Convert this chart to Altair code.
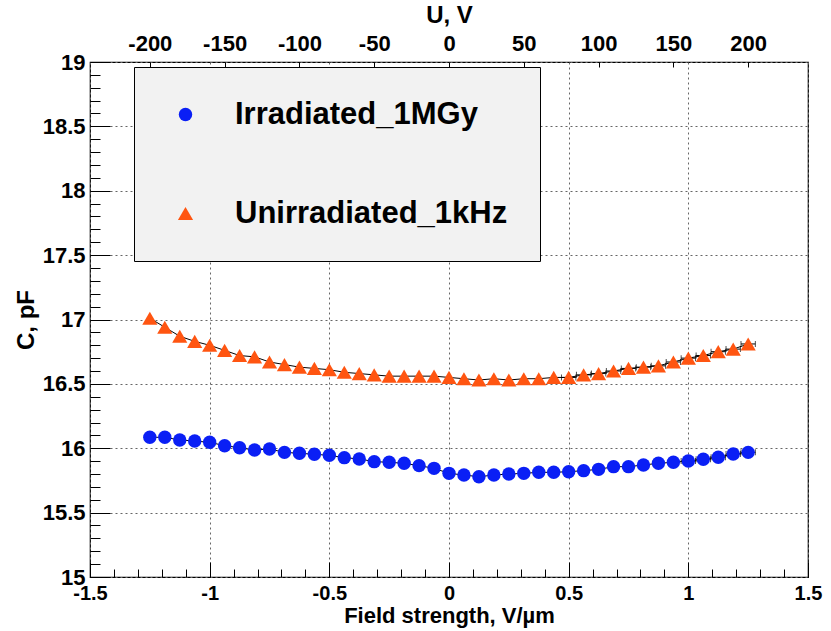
import altair as alt
import pandas as pd

FONT = "Liberation Sans"
BLUE = "#0a1ff5"
ORANGE = "#ff5511"

# ---- data -------------------------------------------------------------
voltage = [-200, -190, -180, -170, -160, -150, -140, -130, -120, -110,
           -100, -90, -80, -70, -60, -50, -40, -30, -20, -10, 0,
           10, 20, 30, 40, 50, 60, 70, 80, 90, 100,
           110, 120, 130, 140, 150, 160, 170, 180, 190, 200]
field = [-1.25, -1.1875, -1.125, -1.0625, -1.0, -0.9375, -0.875, -0.8125,
         -0.75, -0.6875, -0.625, -0.5625, -0.5, -0.4375, -0.375, -0.3125,
         -0.25, -0.1875, -0.125, -0.0625, 0.0,
         0.0625, 0.125, 0.1875, 0.25, 0.3125, 0.375, 0.4375, 0.5, 0.5625,
         0.625, 0.6875, 0.75, 0.8125, 0.875, 0.9375, 1.0, 1.0625, 1.125,
         1.1875, 1.25]
irradiated = [16.085, 16.085, 16.064, 16.056, 16.046, 16.020, 16.004, 15.986,
              15.994, 15.968, 15.961, 15.953, 15.945, 15.927, 15.917, 15.896,
              15.891, 15.883, 15.865, 15.844, 15.805,
              15.792, 15.779, 15.792, 15.800, 15.805, 15.813, 15.813, 15.818,
              15.826, 15.836, 15.857, 15.857, 15.870, 15.883, 15.891, 15.901,
              15.914, 15.930, 15.955, 15.968]
unirradiated = [17.01, 16.94, 16.87, 16.83, 16.80, 16.76, 16.72, 16.71,
                16.67, 16.65, 16.63, 16.62, 16.61, 16.59, 16.58, 16.57,
                16.56, 16.56, 16.56, 16.56, 16.55,
                16.54, 16.53, 16.54, 16.53, 16.54, 16.54, 16.55, 16.55,
                16.57, 16.58, 16.60, 16.62, 16.63, 16.64, 16.67, 16.70,
                16.72, 16.75, 16.77, 16.81]
irradiated_xerr = [0.0] * 36 + [0.03, 0.03, 0.03, 0.03, 0.03]
unirradiated_xerr = [0.0] * 28 + [0.03] * 13
series_names = ["Irradiated_1MGy", "Unirradiated_1kHz"]

x_major = [-1.5, -1.0, -0.5, 0.0, 0.5, 1.0, 1.5]
x_minor = [round(-1.5 + 0.1 * i, 2) for i in range(31)]
y_major = [15, 15.5, 16, 16.5, 17, 17.5, 18, 18.5, 19]
y_minor = [round(15 + 0.1 * i, 2) for i in range(41)]
u_major = [-200, -150, -100, -50, 0, 50, 100, 150, 200]

rows = []
for name, vals, errs in [(series_names[0], irradiated, irradiated_xerr),
                         (series_names[1], unirradiated, unirradiated_xerr)]:
    for e, u, c, xe in zip(field, voltage, vals, errs):
        rows.append({"series": name, "E": e, "U": u, "C": c,
                     "lo": e - xe, "hi": e + xe, "xerr": xe})
df = pd.DataFrame(rows)
err_df = df[df["xerr"] > 0]

W, H = 718, 515
xdom = alt.Scale(domain=[-1.5, 1.5], nice=False, zero=False)
ydom = alt.Scale(domain=[15, 19], nice=False, zero=False)

def Xn(field_name="E"):
    return alt.X(f"{field_name}:Q", scale=xdom, axis=None)

def Yn(field_name="C"):
    return alt.Y(f"{field_name}:Q", scale=ydom, axis=None)

base = alt.Chart(df)

lines = base.mark_line(color="black", strokeWidth=1).encode(
    x=Xn(), y=Yn(), detail="series:N", order="E:Q")

err = alt.Chart(err_df).mark_rule(color="black", strokeWidth=1).encode(
    x=Xn("lo"), x2="hi:Q", y=Yn())
cap_lo = alt.Chart(err_df).mark_tick(color="black", orient="vertical",
                                     size=6, thickness=1).encode(x=Xn("lo"), y=Yn())
cap_hi = alt.Chart(err_df).mark_tick(color="black", orient="vertical",
                                     size=6, thickness=1).encode(x=Xn("hi"), y=Yn())

legend = alt.Legend(
    orient="none", legendX=44, legendY=5, title=None,
    fillColor="#f2f2f2", strokeColor="black", padding=32,
    rowPadding=67, symbolOffset=4, labelOffset=34,
    labelFontSize=31, labelFont=FONT, labelFontWeight="bold",
    labelColor="black", symbolSize=200, symbolStrokeWidth=0,
    labelLimit=600)

points = base.mark_point(filled=True, opacity=1, strokeWidth=0).encode(
    x=alt.X("E:Q", scale=xdom, axis=alt.Axis(
        orient="bottom", values=x_major, labelExpr="'' + datum.value",
        ticks=False, domain=False, grid=True, gridColor="#666666",
        gridDash=[2, 3], gridWidth=1, labelFont=FONT, labelFontSize=20,
        labelFontWeight="bold", labelColor="black", labelPadding=6,
        labelFlush=False, labelOverlap=False,
        title="Field strength, V/\u00b5m", titleFont=FONT, titleFontSize=22,
        titleFontWeight="bold", titleColor="black", titlePadding=2)),
    y=alt.Y("C:Q", scale=ydom, axis=alt.Axis(
        orient="left", values=y_major, labelExpr="'' + datum.value",
        ticks=False, domain=False, grid=True, gridColor="#666666",
        gridDash=[2, 3], gridWidth=1, labelFont=FONT, labelFontSize=22,
        labelFontWeight="bold", labelColor="black", labelPadding=5,
        labelFlush=False, labelOverlap=False,
        title="C, pF", titleFont=FONT, titleFontSize=24,
        titleFontWeight="bold", titleColor="black", titlePadding=4)),
    color=alt.Color("series:N", scale=alt.Scale(domain=series_names,
                                                range=[BLUE, ORANGE]),
                    legend=legend),
    shape=alt.Shape("series:N", scale=alt.Scale(domain=series_names,
                                                range=["circle", "triangle-up"]),
                    legend=legend),
    size=alt.Size("series:N", scale=alt.Scale(domain=series_names,
                                              range=[180, 230]),
                  legend=None),
)

def tick_axis(orient, values, size, offset):
    return alt.Axis(orient=orient, values=values, tickSize=size, offset=offset,
                    labels=False, domain=False, grid=False, title=None,
                    ticks=True, tickColor="black", tickWidth=1)

major_ticks = base.mark_point(opacity=0).encode(
    x=alt.X("E:Q", scale=xdom, axis=tick_axis("top", x_major, 15, -H)),
    y=alt.Y("C:Q", scale=ydom, axis=tick_axis("right", y_major, 20, -W)))
minor_ticks = base.mark_point(opacity=0).encode(
    x=alt.X("E:Q", scale=xdom, axis=tick_axis("top", x_minor, 8, -H)),
    y=alt.Y("C:Q", scale=ydom, axis=tick_axis("right", y_minor, 10, -W)))

uscale = alt.Scale(domain=[-240, 240], nice=False, zero=False)
u_labels = base.mark_point(opacity=0).encode(
    x=alt.X("U:Q", scale=uscale, axis=alt.Axis(
        orient="top", values=u_major, labelExpr="'' + datum.value",
        ticks=False, domain=False, grid=False, labelFont=FONT,
        labelFontSize=22, labelFontWeight="bold", labelColor="black",
        labelPadding=7, labelFlush=False, labelOverlap=False,
        title="U, V", titleFont=FONT, titleFontSize=24,
        titleFontWeight="bold", titleColor="black", titlePadding=5)),
    y=Yn())
u_ticks = base.mark_point(opacity=0).encode(
    x=alt.X("U:Q", scale=uscale, axis=tick_axis("bottom", u_major, 5, -H)),
    y=Yn())

chart = alt.layer(
    lines, err, cap_lo, cap_hi, points, major_ticks, minor_ticks, u_labels, u_ticks
).resolve_scale(x="independent").resolve_axis(
    x="independent", y="independent"
).properties(
    width=W, height=H,
    autosize=alt.AutoSizeParams(type="none"),
    padding={"left": 90, "top": 62, "right": 23, "bottom": 54},
    background="white",
).configure_view(stroke="black", strokeWidth=1.2)

chart.save("out.html", embed_options={"renderer": "svg", "actions": False})
